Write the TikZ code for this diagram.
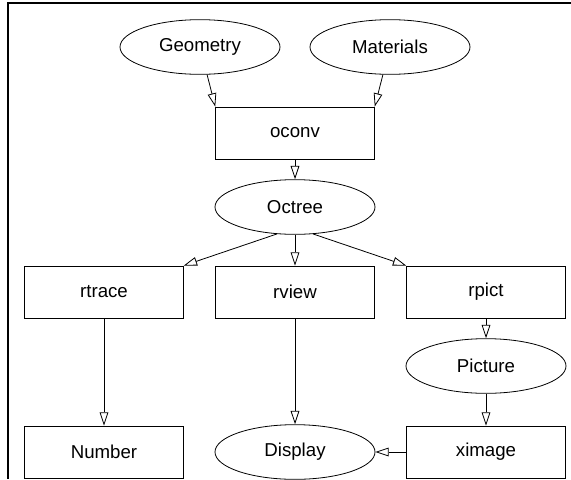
\documentclass[tikz,border=0pt]{standalone}
\usepackage{fontspec}
\setmainfont{Liberation Sans}
\usetikzlibrary{shapes, arrows.meta, positioning}
\tikzstyle{every node}=[font=\fontsize{14}{16}\selectfont]
\tikzstyle{proc}=[draw, rectangle, line width=0.6pt, minimum width=119pt, minimum height=39pt]
\tikzstyle{data}=[draw, ellipse, line width=0.6pt, minimum width=120pt, minimum height=41pt]
\tikzstyle{flow}=[-{Triangle[open, length=10pt, width=6.5pt]}, line width=0.6pt]

\begin{document}
\begin{tikzpicture}[x=0.75pt, y=-0.75pt, on grid]
  \useasboundingbox (0,0) rectangle (571,479);
  \draw[line width=1pt] (571,3) -- (8,3) -- (8,479);
  \node[proc] (oconv) at (295,133) {oconv};
  \node[data, above left=64.5pt and 71.25pt of oconv] (geom) {Geometry};
  \node[data, above right=64.5pt and 71.25pt of oconv] (mat) {Materials};
  \node[data, below=55.5pt of oconv] (octree) {Octree};
  \node[proc, below=63.75pt of octree] (rview) {rview};
  \node[proc, left=143.25pt of rview] (rtrace) {rtrace};
  \node[proc, right=143.25pt of rview] (rpict) {rpict};
  \node[data, below=55.5pt of rpict] (picture) {Picture};
  \node[proc, below=64.5pt of picture] (ximage) {ximage};
  \node[data, left=143.25pt of ximage] (display) {Display};
  \node[proc, left=143.25pt of display] (number) {Number};
  \draw[flow] (geom) -- (oconv.north west);
  \draw[flow] (mat) -- (oconv.north east);
  \draw[flow] (oconv) -- (octree);
  \draw[flow] (octree.-124) -- (rtrace.north east);
  \draw[flow] (octree) -- (rview);
  \draw[flow] (octree.-56) -- (rpict.north west);
  \draw[flow] (rtrace) -- (number);
  \draw[flow] (rview) -- (display);
  \draw[flow] (rpict) -- (picture);
  \draw[flow] (picture) -- (ximage);
  \draw[flow] (ximage) -- (display);
\end{tikzpicture}
\end{document}
